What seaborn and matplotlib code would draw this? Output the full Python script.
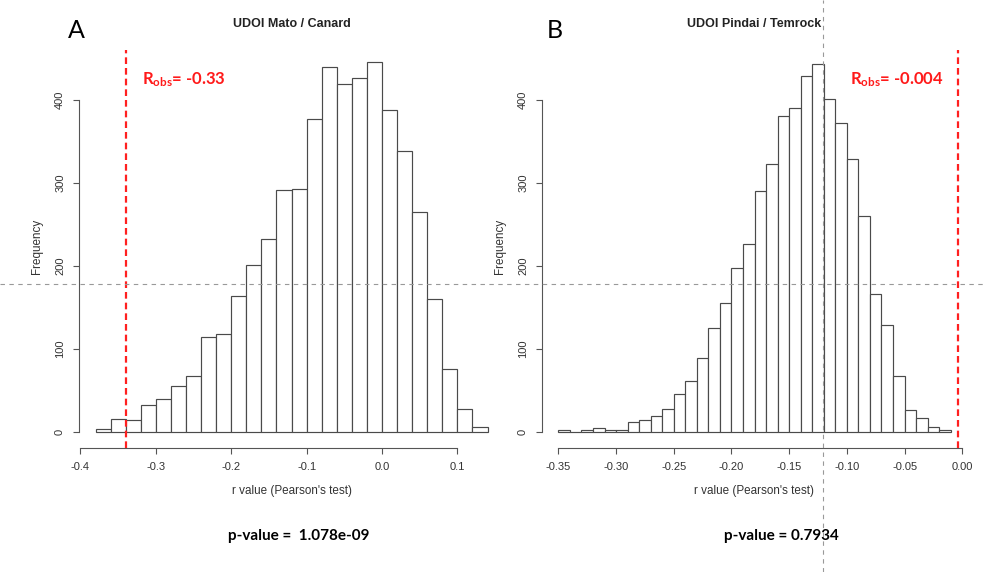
import numpy as np
import pandas as pd
import matplotlib
matplotlib.use("Agg")
import matplotlib.pyplot as plt
from matplotlib.lines import Line2D
import seaborn as sns

# ---------------- data ----------------
# Panel A: UDOI Mato / Canard, bins of width 0.02 from -0.38 to 0.14
a_edges = [-0.38, -0.36, -0.34, -0.32, -0.30, -0.28, -0.26, -0.24, -0.22, -0.20,
           -0.18, -0.16, -0.14, -0.12, -0.10, -0.08, -0.06, -0.04, -0.02, 0.00,
           0.02, 0.04, 0.06, 0.08, 0.10, 0.12, 0.14]
a_counts = [4, 16, 14, 32, 40, 55, 67, 114, 118, 164, 201, 233, 291, 293, 377,
            440, 419, 426, 446, 388, 338, 265, 160, 76, 28, 6]
a_obs = -0.34
a_xticks = [-0.4, -0.3, -0.2, -0.1, 0.0, 0.1]
a_xticklabels = ["-0.4", "-0.3", "-0.2", "-0.1", "0.0", "0.1"]

# Panel B: UDOI Pindai / Temrock, bins of width 0.01 from -0.35 to -0.01
b_edges = [-0.35, -0.34, -0.33, -0.32, -0.31, -0.30, -0.29, -0.28, -0.27, -0.26,
           -0.25, -0.24, -0.23, -0.22, -0.21, -0.20, -0.19, -0.18, -0.17, -0.16,
           -0.15, -0.14, -0.13, -0.12, -0.11, -0.10, -0.09, -0.08, -0.07, -0.06,
           -0.05, -0.04, -0.03, -0.02, -0.01]
b_counts = [2, 0, 2, 5, 3, 2, 12, 14, 19, 28, 46, 61, 89, 125, 156, 198, 226,
            290, 323, 381, 390, 429, 443, 401, 372, 329, 260, 166, 129, 67, 26,
            17, 6, 3]
b_obs = -0.004
b_xticks = [-0.35, -0.30, -0.25, -0.20, -0.15, -0.10, -0.05, 0.00]
b_xticklabels = ["-0.35", "-0.30", "-0.25", "-0.20", "-0.15", "-0.10", "-0.05", "0.00"]

yticks = [0, 100, 200, 300, 400]
titles = ["UDOI Mato / Canard", "UDOI Pindai / Temrock"]
letters = ["A", "B"]
obs_labels = [r"$\mathbf{R_{obs}}$= -0.33", r"$\mathbf{R_{obs}}$= -0.004"]
pvalues = ["p-value =  1.078e-09", "p-value = 0.7934"]
xlabel = "r value (Pearson's test)"
ylabel = "Frequency"

# ---------------- style ----------------
sns.set_style("white")
plt.rcParams["font.family"] = ["Liberation Sans", "DejaVu Sans"]
plt.rcParams["mathtext.fontset"] = "custom"
plt.rcParams["mathtext.rm"] = "Lato"
plt.rcParams["mathtext.bf"] = "Lato:bold"

W, H = 983, 572
fig = plt.figure(figsize=(W / 100, H / 100), dpi=100)
fig.patch.set_facecolor("white")


def px_axes(left, right, top, bottom):
    return fig.add_axes([left / W, 1 - bottom / H, (right - left) / W, (bottom - top) / H])


axA = px_axes(79.0, 506.4, 50.2, 448.2)
axB = px_axes(542.0, 971.5, 50.2, 448.2)

panels = [
    (axA, a_edges, a_counts, a_obs, a_xticks, a_xticklabels, (-0.4019, 0.165)),
    (axB, b_edges, b_counts, b_obs, b_xticks, b_xticklabels, (-0.3642, 0.008)),
]

edge_col = "#4a4a4a"
axis_col = "#555555"
txt_col = "#333333"

for ax, edges, counts, obs, xt, xtl, xl in panels:
    centers = [(edges[i] + edges[i + 1]) / 2 for i in range(len(counts))]
    df = pd.DataFrame({"r": centers, "n": counts})
    sns.histplot(data=df, x="r", weights="n", bins=edges, ax=ax,
                 color="white", edgecolor=edge_col, linewidth=0.85, alpha=1)
    ax.set_xlim(*xl)
    ax.set_ylim(-19.5, 460)
    ax.axvline(obs, color="#ff2020", lw=1.6, linestyle=(0, (3, 1.8)), zorder=5)
    for s in ["top", "right"]:
        ax.spines[s].set_visible(False)
    for s in ["left", "bottom"]:
        ax.spines[s].set_color(axis_col)
        ax.spines[s].set_linewidth(0.8)
    ax.spines["left"].set_bounds(0, 400)
    ax.spines["bottom"].set_bounds(xt[0], xt[-1])
    ax.set_xticks(xt)
    ax.set_xticklabels(xtl)
    ax.set_yticks(yticks)
    ax.set_yticklabels([str(v) for v in yticks], rotation=90, va="center")
    ax.tick_params(axis="both", direction="out", length=4, width=0.8,
                   color=axis_col, labelsize=8, labelcolor=txt_col,
                   bottom=True, left=True)
    ax.tick_params(axis="x", pad=6)
    ax.tick_params(axis="y", pad=6)
    ax.set_xlabel(xlabel, fontsize=8.4, color=txt_col)
    ax.set_ylabel(ylabel, fontsize=8.4, color=txt_col)
    ax.grid(False)

axA.xaxis.set_label_coords(291.7 / W, 1 - 491 / H, transform=fig.transFigure)
axB.xaxis.set_label_coords(754 / W, 1 - 491 / H, transform=fig.transFigure)
axA.yaxis.set_label_coords(37 / W, 1 - 246 / H, transform=fig.transFigure)
axB.yaxis.set_label_coords(500 / W, 1 - 246 / H, transform=fig.transFigure)
for ax in (axA, axB):
    ax.xaxis.label.set_va("center")
    ax.yaxis.label.set_va("center")

# titles
fig.text(291.7 / W, 1 - 27 / H, titles[0], ha="center", va="baseline",
         fontsize=9, fontweight="bold", color="#222222")
fig.text(754 / W, 1 - 27 / H, titles[1], ha="center", va="baseline",
         fontsize=9, fontweight="bold", color="#222222")

# panel letters
fig.text(68 / W, 1 - 38 / H, letters[0], ha="left", va="baseline",
         fontsize=18, family=["Lato", "DejaVu Sans"], color="black")
fig.text(547 / W, 1 - 38 / H, letters[1], ha="left", va="baseline",
         fontsize=18, family=["Lato", "DejaVu Sans"], color="black")

# R_obs labels
fig.text(141.5 / W, 1 - 84 / H, obs_labels[0], ha="left", va="baseline",
         fontsize=12, fontweight="bold", family=["Lato", "DejaVu Sans"], color="#ff1a1a")
fig.text(850 / W, 1 - 84 / H, obs_labels[1], ha="left", va="baseline",
         fontsize=12, fontweight="bold", family=["Lato", "DejaVu Sans"], color="#ff1a1a")

# p-values
fig.text(298.8 / W, 1 - 536 / H, pvalues[0], ha="center", va="center",
         fontsize=11, fontweight="bold", family=["Lato", "DejaVu Sans"], color="black")
fig.text(781.7 / W, 1 - 536 / H, pvalues[1], ha="center", va="center",
         fontsize=11, fontweight="bold", family=["Lato", "DejaVu Sans"], color="black")

# screen cross-hair dashed guides
fig.add_artist(Line2D([0, 1], [1 - 284.3 / H, 1 - 284.3 / H], transform=fig.transFigure,
                      color="#999999", lw=0.8, linestyle=(0, (4, 4)), zorder=10))
fig.add_artist(Line2D([823.3 / W, 823.3 / W], [0, 1], transform=fig.transFigure,
                      color="#999999", lw=0.8, linestyle=(0, (4, 4)), zorder=10))

fig.savefig("out.png", dpi=100, facecolor="white")
